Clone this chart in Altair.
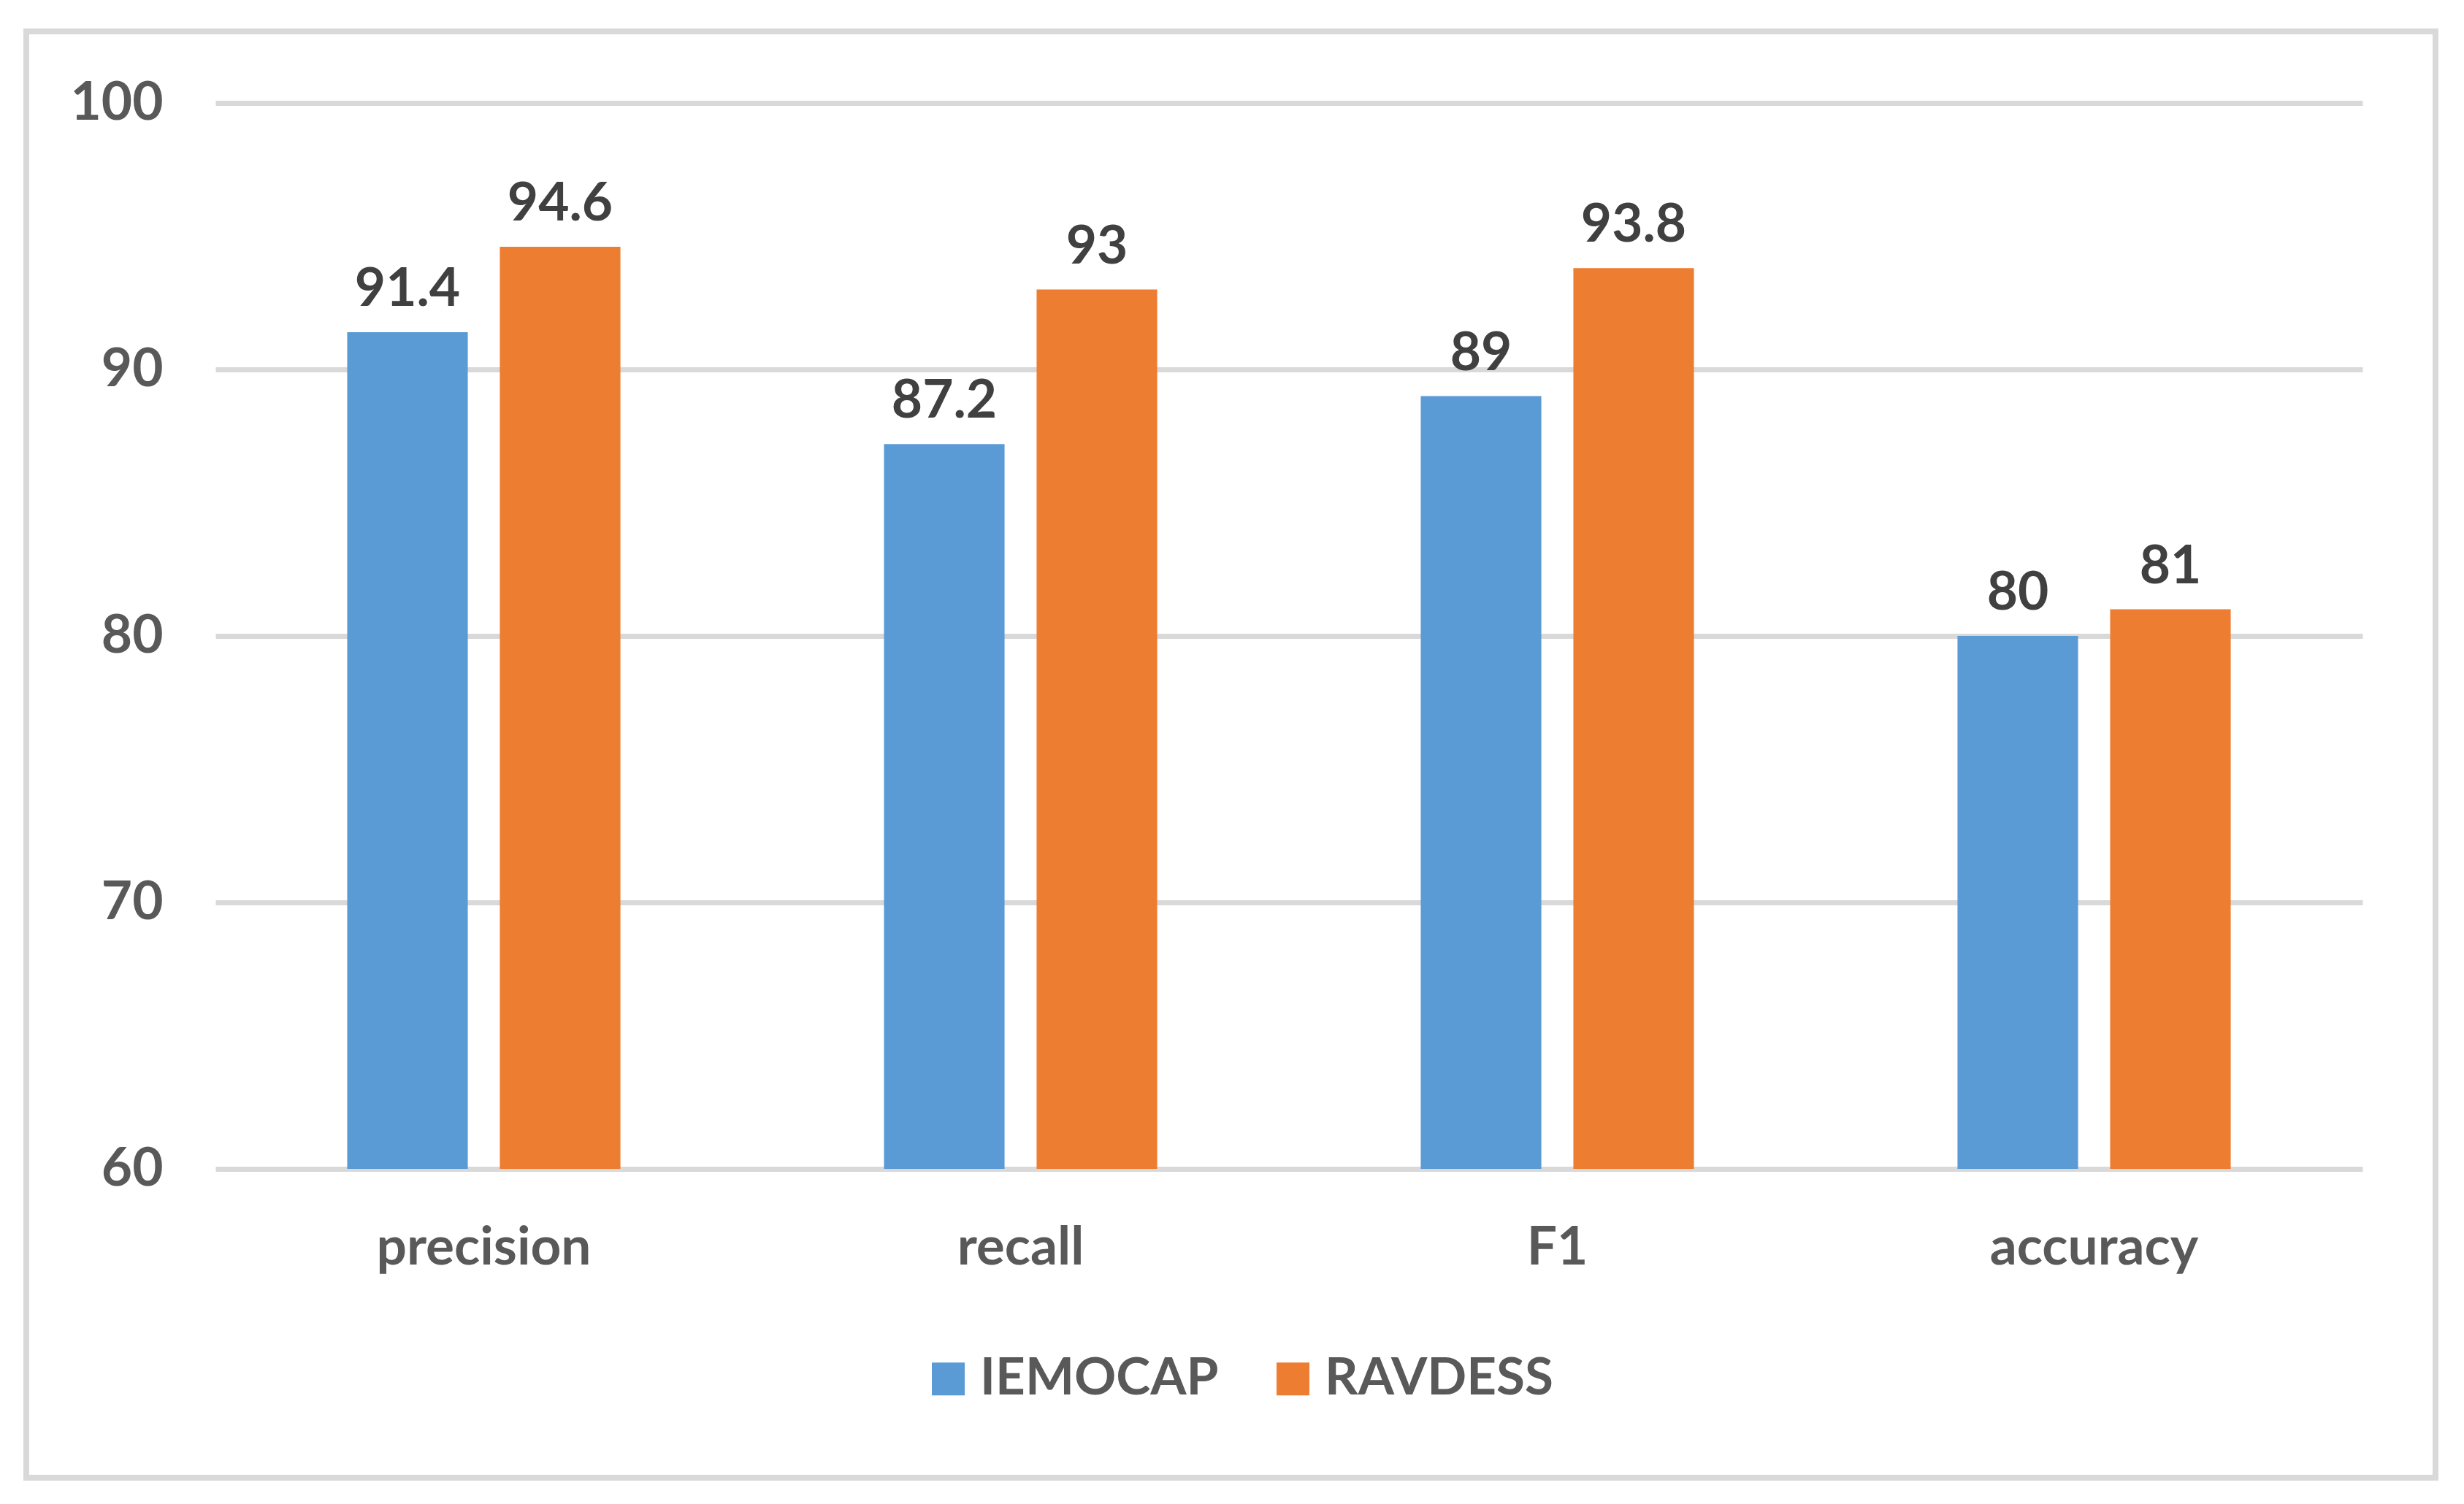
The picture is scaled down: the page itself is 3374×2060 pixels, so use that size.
import altair as alt
import pandas as pd

# Metrics and scores for the two emotion datasets
metrics = ["precision", "recall", "F1", "accuracy"]
series_names = ["IEMOCAP", "RAVDESS"]
iemocap = [91.4, 87.2, 89, 80]
ravdess = [94.6, 93, 93.8, 81]
y_ticks = [60, 70, 80, 90, 100]
colors = ["#5B9BD5", "#ED7D31"]

rows = []
for m, a, b in zip(metrics, iemocap, ravdess):
    rows.append({"metric": m, "dataset": series_names[0], "score": a})
    rows.append({"metric": m, "dataset": series_names[1], "score": b})
df = pd.DataFrame(rows)

FONT = "Lato"

x_enc = alt.X(
    "metric:N",
    sort=metrics,
    scale=alt.Scale(paddingInner=0.491, paddingOuter=0.2455),
    axis=alt.Axis(
        title=None, labelAngle=0, ticks=False, domain=False, grid=False,
        labelFont=FONT, labelFontSize=73, labelFontWeight="bold",
        labelColor="#595959", labelPadding=72, labelLimit=0,
    ),
)
xoff_enc = alt.XOffset(
    "dataset:N", sort=series_names,
    scale=alt.Scale(paddingInner=0.21, paddingOuter=0),
)
y_scale = alt.Scale(domain=[60, 100], zero=False, nice=False)

base = alt.Chart(df)

bars = base.mark_bar().encode(
    x=x_enc,
    xOffset=xoff_enc,
    y=alt.Y(
        "score:Q", scale=y_scale,
        axis=alt.Axis(
            title=None, values=y_ticks, ticks=False, domain=False,
            gridColor="#d9d9d9", gridWidth=7,
            labelFont=FONT, labelFontSize=73, labelFontWeight="bold",
            labelColor="#595959", labelPadding=72, labelLimit=0,
        ),
    ),
    y2=alt.Y2(datum=60),
    color=alt.Color(
        "dataset:N",
        sort=series_names,
        scale=alt.Scale(domain=series_names, range=colors),
        legend=alt.Legend(
            title=None, orient="none", direction="horizontal",
            legendX=968, legendY=1712, padding=0,
            symbolType="square", symbolSize=2025, symbolStrokeWidth=0,
            labelFont=FONT, labelFontSize=71, labelFontWeight="bold",
            labelColor="#595959", labelOffset=8, columnPadding=66,
            labelLimit=0,
        ),
    ),
)

labels = base.mark_text(
    font=FONT, fontSize=73, fontWeight="bold", color="#404040",
    baseline="alphabetic", dy=-36,
).encode(
    x=alt.X("metric:N", sort=metrics),
    xOffset=alt.XOffset("dataset:N", sort=series_names),
    y=alt.Y("score:Q", scale=y_scale),
    text=alt.Text("score:Q", format="~g"),
)

# light grey frame around the whole chart area
frame = alt.Chart(pd.DataFrame({"k": [0]})).mark_rect(
    filled=False, stroke="#d9d9d9", strokeWidth=8
).encode(
    x=alt.value(-259), x2=alt.value(3040),
    y=alt.value(-98), y2=alt.value(1883),
)

chart = alt.layer(frame, bars, labels).properties(
    width=2940,
    height=1460,
    autosize=alt.AutoSizeParams(type="none"),
    padding={"left": 295, "top": 141, "right": 139, "bottom": 459},
    background="white",
).configure_view(stroke=None)

chart.save("out.html", embed_options={"renderer": "svg", "actions": False})
